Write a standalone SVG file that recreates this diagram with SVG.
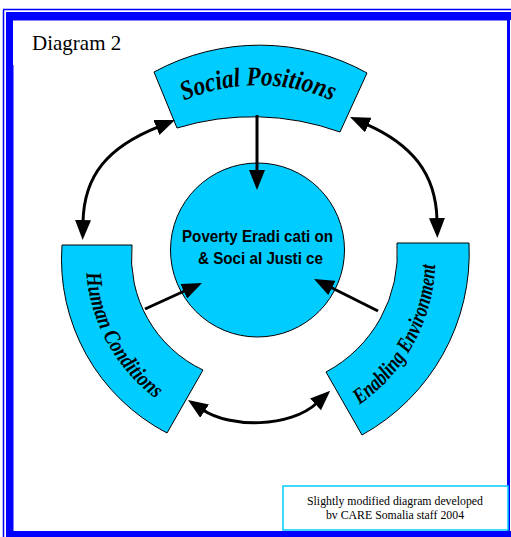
<svg xmlns="http://www.w3.org/2000/svg" width="511" height="537" viewBox="0 0 511 537">
<style>
.seg{fill:#00ccff;stroke:#000;stroke-width:1}
.conn{fill:none;stroke:#000;stroke-width:3}
.lbl{font-family:"Liberation Serif",serif;font-weight:bold;font-style:italic;fill:#000}
.ctr{font-family:"Liberation Sans",Arial,sans-serif;font-weight:bold;font-size:17px;fill:#000}
.note{font-family:"Liberation Serif","Times New Roman",serif;font-size:11.8px;fill:#000}
</style>
<defs>
<marker id="ah" viewBox="0 0 20 16" markerWidth="20" markerHeight="16" refX="2" refY="8" orient="auto-start-reverse" markerUnits="userSpaceOnUse">
<path d="M0,0 L20,8 L0,16 z" fill="#000"/>
</marker>
<path id="pSocial" d="M117,151 A184,184 0 0 1 399,151"/>
<path id="pHuman" d="M88.6,230.1 A172,172 0 0 0 193.6,419.5"/>
<path id="pEnab" d="M316,427 A178,178 0 0 0 430,216"/>
</defs>
<rect width="511" height="537" fill="#fff"/>
<g id="frame">
<line x1="3.5" y1="10" x2="3.5" y2="537" stroke="#0000ff" stroke-width="1.5"/>
<line x1="3" y1="9.5" x2="511" y2="9.5" stroke="#0000ff" stroke-width="1.5"/>
<rect x="6" y="12" width="7" height="525" fill="#0000ff"/>
<rect x="6" y="12" width="505" height="8" fill="#0000ff"/>
<rect x="6" y="531" width="505" height="6" fill="#0000ff"/>
<rect x="507" y="20" width="3" height="512" fill="#0000ff"/>
<line x1="13.5" y1="65" x2="13.5" y2="531" stroke="#8080ff" stroke-width="1"/>
<line x1="13" y1="20.5" x2="507" y2="20.5" stroke="#8080ff" stroke-width="1"/>
</g>
<text x="32" y="50" font-family="Liberation Serif,'Times New Roman',serif" font-size="21" fill="#000">Diagram 2</text>
<g id="center">
<circle cx="257.5" cy="250" r="87" class="seg"/>
<text class="ctr" x="257.5" y="242" text-anchor="middle" textLength="151" lengthAdjust="spacingAndGlyphs">Poverty Eradi cati on</text>
<text class="ctr" x="260.5" y="264" text-anchor="middle" textLength="125" lengthAdjust="spacingAndGlyphs">&amp; Soci al Justi ce</text>
</g>
<g id="social">
<path class="seg" d="M154,72 A221,221 0 0 1 367,73 L340,132 A259,259 0 0 0 177,128 Z"/>
<text class="lbl" font-size="27"><textPath href="#pSocial" startOffset="50%" text-anchor="middle" textLength="152" lengthAdjust="spacingAndGlyphs">Social Positions</textPath></text>
</g>
<g id="human">
<path class="seg" d="M62,245 A196,196 0 0 0 167,433 L203,370 A125,125 0 0 1 132,245 Z"/>
<text class="lbl" font-size="22"><textPath href="#pHuman" startOffset="50%" text-anchor="middle" textLength="148" lengthAdjust="spacingAndGlyphs">Human Conditions</textPath></text>
</g>
<g id="enabling">
<path class="seg" d="M397,243 L469,243 A208,208 0 0 1 362,435 L326,372 A135,135 0 0 0 397,243 Z"/>
<text class="lbl" font-size="22"><textPath href="#pEnab" startOffset="50%" text-anchor="middle" textLength="165" lengthAdjust="spacingAndGlyphs">Enabling Environment</textPath></text>
</g>
<g id="connectors">
<line class="conn" x1="257" y1="115" x2="257" y2="172" marker-end="url(#ah)"/>
<line class="conn" x1="145" y1="309" x2="185.6" y2="290.5" marker-end="url(#ah)"/>
<line class="conn" x1="378" y1="311" x2="330.1" y2="287" marker-end="url(#ah)"/>
<path class="conn" d="M83,222 C84,175 108,147 158.3,126.8" marker-start="url(#ah)" marker-end="url(#ah)"/>
<path class="conn" d="M437,220 C436,173 411,144 366.5,124.3" marker-start="url(#ah)" marker-end="url(#ah)"/>
<path class="conn" d="M203,410 C230,428 290,428 317,403" marker-start="url(#ah)" marker-end="url(#ah)"/>
</g>
<g id="note">
<rect x="283" y="486" width="225" height="44" fill="#fff" stroke="#00ccff" stroke-width="1.5"/>
<text class="note" x="395" y="505" text-anchor="middle">Slightly modified diagram developed</text>
<text class="note" x="395" y="519" text-anchor="middle">bv CARE Somalia staff 2004</text>
</g>
</svg>
